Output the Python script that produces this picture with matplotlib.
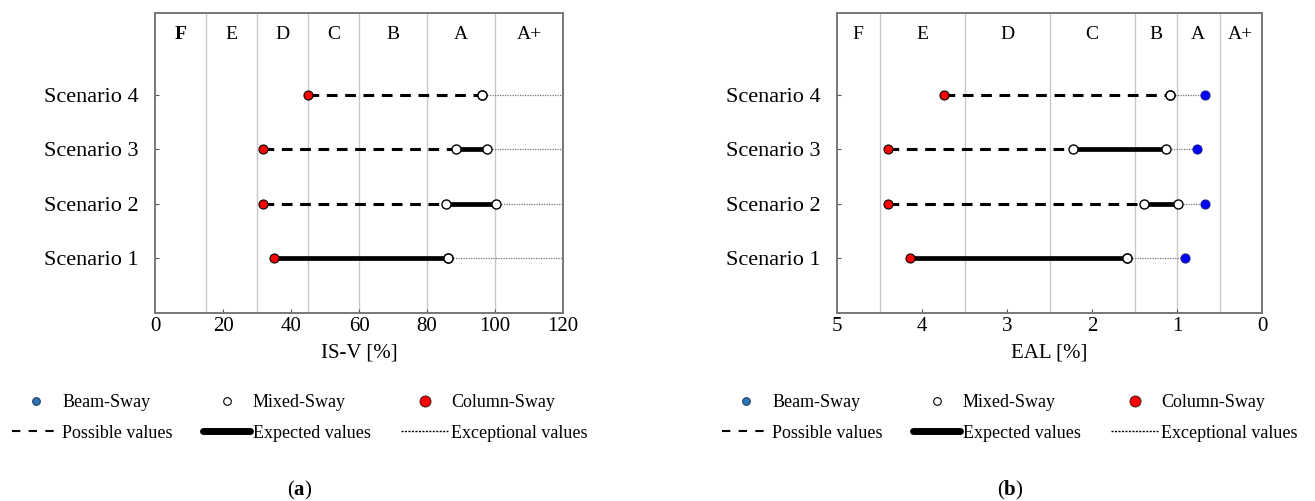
import numpy as np
import matplotlib
matplotlib.use("Agg")
from matplotlib import pyplot as plt
from matplotlib.lines import Line2D

plt.rcParams['font.family'] = ['Liberation Serif', 'DejaVu Serif']
plt.rcParams['mathtext.fontset'] = 'custom'
plt.rcParams['mathtext.rm'] = 'Liberation Serif'
plt.rcParams['mathtext.bf'] = 'Liberation Serif:bold'

scenarios = ['Scenario 1', 'Scenario 2', 'Scenario 3', 'Scenario 4']
classes = ['F', 'E', 'D', 'C', 'B', 'A', 'A+']

# (a) IS-V [%]; beam-sway lies beyond the plotted range
isv_column = [35.1, 31.7, 31.7, 45.0]
isv_expected_lo = [35.1, 85.5, 88.5, 96.2]
isv_mixed_lo = [86.3, 85.5, 88.5, 96.2]
isv_mixed_hi = [86.3, 100.2, 97.6, 96.2]
isv_beam = [np.nan, np.nan, np.nan, np.nan]
isv_bounds = [0, 15, 30, 45, 60, 80, 100, 120]
isv_ticks = [0, 20, 40, 60, 80, 100, 120]

# (b) EAL [%]
eal_column = [4.14, 4.40, 4.40, 3.74]
eal_expected_lo = [4.14, 1.39, 2.22, 1.08]
eal_mixed_lo = [1.59, 1.39, 2.22, 1.08]
eal_mixed_hi = [1.59, 0.99, 1.13, 1.08]
eal_beam = [0.91, 0.665, 0.77, 0.665]
eal_bounds = [5, 4.5, 3.5, 2.5, 1.5, 1.0, 0.5, 0]
eal_ticks = [5, 4, 3, 2, 1, 0]

W, H = 1315, 501
fig = plt.figure(figsize=(W / 100, H / 100), dpi=100)


def panel(rect, column, exp_lo, mixed_lo, mixed_hi, beam, bounds, ticks, xlabel, bold_f):
    ax = fig.add_axes(rect)
    xmin, xmax = bounds[0], bounds[-1]
    ys = np.arange(1, len(scenarios) + 1)
    for b in bounds[1:-1]:
        ax.axvline(b, color='#c8c8c8', lw=1.0, zorder=0)
    for i, y in enumerate(ys):
        end = beam[i] if not np.isnan(beam[i]) else xmax
        ax.plot([mixed_hi[i], end], [y, y], color='#777777', lw=0.9,
                ls=(0, (1, 1)), zorder=1)
        if column[i] != exp_lo[i]:
            ax.plot([column[i], exp_lo[i]], [y, y], color='black', lw=2.2,
                    ls=(0, (3.5, 2.5)), zorder=2)
        ax.plot([exp_lo[i], mixed_hi[i]], [y, y], color='black', lw=3.4,
                solid_capstyle='butt', zorder=2)
        ax.plot([mixed_lo[i], mixed_hi[i]], [y, y], 'o', ms=6.5, mfc='white',
                mec='black', mew=1.0, zorder=3)
        ax.plot([column[i]], [y], 'o', ms=6.5, mfc='red', mec='black',
                mew=0.8, zorder=3)
        if not np.isnan(beam[i]):
            ax.plot([beam[i]], [y], 'o', ms=6.5, mfc='#0000ff', mec='#1a1a8c',
                    mew=0.8, zorder=3)
    for k, name in enumerate(classes):
        xc = 0.5 * (bounds[k] + bounds[k + 1])
        ax.text(xc, 5.1, name, ha='center', va='center', fontsize=14,
                fontweight='bold' if (bold_f and name == 'F') else 'normal')
    ax.set_xlim(xmin, xmax)
    ax.set_ylim(0, 5.5)
    ax.set_xticks(ticks)
    ax.set_xticklabels([str(t) for t in ticks])
    ax.set_yticks(ys)
    ax.set_yticklabels(scenarios)
    ax.tick_params(axis='x', direction='in', length=3, labelsize=15, pad=3,
                   color='#555555')
    ax.tick_params(axis='y', direction='in', length=3, labelsize=16, pad=12,
                   color='#555555')
    for s in ax.spines.values():
        s.set_color('#777777')
        s.set_linewidth(1.4)
    ax.set_xlabel(xlabel, fontsize=15, labelpad=5)
    return ax


panel([155 / W, 1 - 313 / H, 408 / W, 300 / H], isv_column, isv_expected_lo,
      isv_mixed_lo, isv_mixed_hi, isv_beam, isv_bounds, isv_ticks, 'IS-V [%]', True)
panel([837 / W, 1 - 313 / H, 425 / W, 300 / H], eal_column, eal_expected_lo,
      eal_mixed_lo, eal_mixed_hi, eal_beam, eal_bounds, eal_ticks, 'EAL [%]', False)

handles = [
    Line2D([], [], ls='none', marker='o', ms=5.5, mfc='#2e75b6', mec='#1f3d66', mew=0.8),
    Line2D([], [], color='black', lw=1.5, ls=(0, (4, 4))),
    Line2D([], [], ls='none', marker='o', ms=5.5, mfc='white', mec='black', mew=0.8),
    Line2D([], [], color='black', lw=5, solid_capstyle='round'),
    Line2D([], [], ls='none', marker='o', ms=8, mfc='red', mec='#222222', mew=0.6),
    Line2D([], [], color='black', lw=1.0, ls=(0, (1.5, 1))),
]
labels = ['Beam-Sway', 'Possible values', 'Mixed-Sway', 'Expected values',
          'Column-Sway', 'Exceptional values']

for xc, cap in [(300, r'($\mathbf{a}$)'), (1010, r'($\mathbf{b}$)')]:
    fig.legend(handles, labels, ncol=3, loc='center',
               bbox_to_anchor=(xc / W, 1 - 418 / H), frameon=False,
               fontsize=13, handlelength=2.6, handletextpad=0.15,
               columnspacing=1.7, labelspacing=0.75, borderpad=0)
    fig.text(xc / W, 1 - 490 / H, cap, ha='center', va='center', fontsize=15)

fig.savefig('out.png', dpi=100)
